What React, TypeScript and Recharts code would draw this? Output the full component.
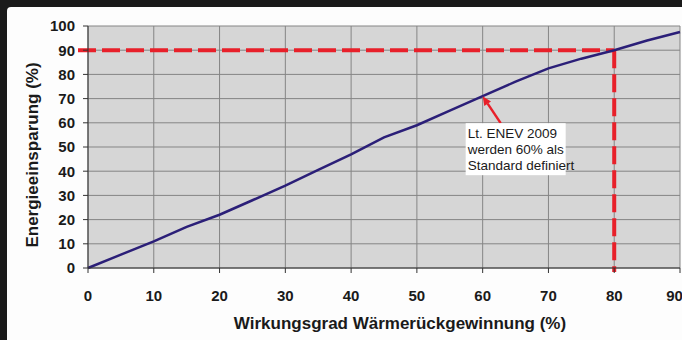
import { LineChart, Line, XAxis, YAxis, CartesianGrid, ReferenceLine, ReferenceDot, Label } from "recharts";

// Wirkungsgrad (%) and Energieeinsparung (%)
const efficiency = [0, 5, 10, 15, 20, 25, 30, 35, 40, 45, 50, 55, 60, 65, 70, 75, 80, 85, 90];
const savings = [0, 5.5, 11, 17, 22, 28, 34, 40.5, 47, 54, 59, 65, 71, 77, 82.5, 86.5, 90, 94, 97.5];
const xTicks = [0, 10, 20, 30, 40, 50, 60, 70, 80, 90];
const yTicks = [0, 10, 20, 30, 40, 50, 60, 70, 80, 90, 100];
const noteLines = ["Lt. ENEV 2009", "werden 60% als", "Standard definiert"];
const markX = 80;
const markY = 90;
const noteX = 60;
const noteY = 71;

const data = efficiency.map((x, i) => ({ x, y: savings[i] }));

const FONT = "'Liberation Sans', Arial, sans-serif";
const RED = "#e8202a";

function dashedH(props: any) {
  return (
    <line x1={props.x1 - 10} y1={props.y1} x2={props.x2} y2={props.y2}
      stroke={RED} strokeWidth={4} strokeDasharray="18 6" />
  );
}

function dashedV(props: any) {
  return (
    <line x1={props.x1} y1={props.y1} x2={props.x2} y2={props.y2 + 4}
      stroke={RED} strokeWidth={4} strokeDasharray="18 6" />
  );
}

function Note(props: any) {
  const { cx, cy } = props;
  const sx = cx + 18;
  const sy = cy + 27;
  const len = Math.hypot(sx - cx, sy - cy);
  const ux = (cx - sx) / len;
  const uy = (cy - sy) / len;
  const hl = 9;
  const hw = 4;
  const bx = cx - ux * hl;
  const by = cy - uy * hl;
  const head = `${cx},${cy} ${bx - uy * hw},${by + ux * hw} ${bx + uy * hw},${by - ux * hw}`;
  return (
    <g>
      <line x1={sx} y1={sy} x2={bx} y2={by} stroke={RED} strokeWidth={2.5} />
      <polygon points={head} fill={RED} />
      <rect x={cx - 17} y={cy + 27} width={100} height={52} fill="#ffffff" />
      {noteLines.map((t, i) => (
        <text key={i} x={cx - 15} y={cy + 42 + i * 16} fontFamily={FONT} fontSize={13.5} fill="#1a1a1a">
          {t}
        </text>
      ))}
    </g>
  );
}

export default function App() {
  return (
    <div style={{ position: "fixed", left: 0, top: 0, width: 682, height: 340, background: "#1a1a1a" }}>
      <div style={{ position: "absolute", left: 7, top: 7, width: 675, height: 333, background: "#fdfdfd", borderTopLeftRadius: 4 }} />
      <div style={{ position: "absolute", left: 0, top: 0 }}>
        <LineChart width={682} height={340} data={data} margin={{ top: 26, right: 2, left: 0, bottom: 0 }}>
          <CartesianGrid fill="#d6d6d6" stroke="#858585" strokeWidth={1} />
          <XAxis
            dataKey="x"
            type="number"
            domain={[0, 90]}
            ticks={xTicks}
            height={72}
            tickSize={5}
            tickMargin={17}
            stroke="#333"
            tick={{ fontFamily: FONT, fontSize: 15, fontWeight: "bold", fill: "#1a1a1a" }}
          >
            <Label
              content={() => (
                <text x={400} y={329} textAnchor="middle" fontFamily={FONT} fontSize={17} fontWeight="bold" fill="#1a1a1a">
                  Wirkungsgrad Wärmerückgewinnung (%)
                </text>
              )}
            />
          </XAxis>
          <YAxis
            type="number"
            domain={[0, 100]}
            ticks={yTicks}
            interval={0}
            width={88}
            tickSize={5}
            tickMargin={8}
            stroke="#333"
            tick={{ fontFamily: FONT, fontSize: 15, fontWeight: "bold", fill: "#1a1a1a" }}
          >
            <Label
              content={() => (
                <text x={38} y={155} transform="rotate(-90 38 155)" textAnchor="middle" fontFamily={FONT} fontSize={17} fontWeight="bold" fill="#1a1a1a">
                  Energieeinsparung (%)
                </text>
              )}
            />
          </YAxis>
          <ReferenceLine segment={[{ x: 0, y: markY }, { x: markX, y: markY }]} shape={dashedH} />
          <ReferenceLine segment={[{ x: markX, y: markY }, { x: markX, y: 0 }]} shape={dashedV} />
          <Line type="linear" dataKey="y" stroke="#2b1f78" strokeWidth={2.5} dot={false} isAnimationActive={false} />
          <ReferenceDot x={noteX} y={noteY} shape={Note} />
        </LineChart>
      </div>
    </div>
  );
}
